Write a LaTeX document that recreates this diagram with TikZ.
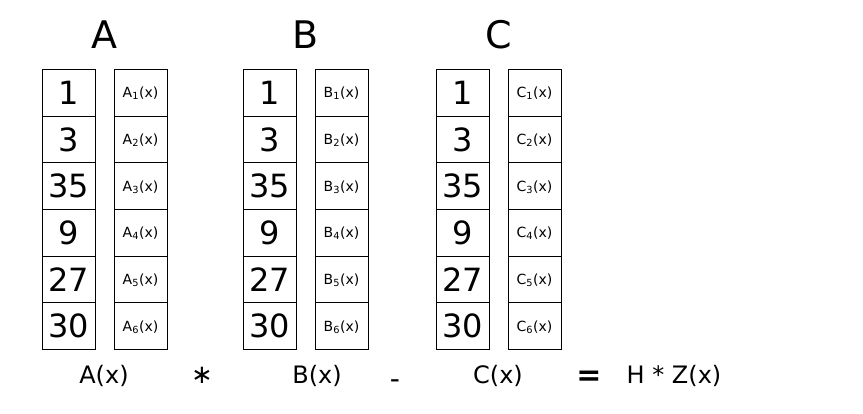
\documentclass[tikz,border=0pt]{standalone}
\usepackage{fontspec}
\setmainfont{DejaVu Sans}
\usetikzlibrary{positioning}

\tikzset{
  cell/.style={draw, line width=1pt, minimum width=53pt, minimum height=46.67pt, inner sep=0pt, outer sep=0pt},
  numcell/.style={cell, font=\fontsize{32}{32}\selectfont},
  polycell/.style={cell, font=\fontsize{14}{14}\selectfont, text height=10.2pt, text depth=0pt},
  header/.style={font=\fontsize{38}{38}\selectfont, anchor=base},
  term/.style={font=\fontsize{24}{24}\selectfont, anchor=base},
}

\begin{document}
\begin{tikzpicture}[x=1pt, y=-1pt]
  \useasboundingbox (0,0) rectangle (863,414);

  % number column and polynomial column for A, B and C
  \foreach \col/\x in {A/68.5, B/269.5, C/462.5} {
    \node[numcell] (num-\col-1) at (\x, 92.7) {1};
    \node[polycell, right = 19pt of num-\col-1] (poly-\col-1) {\col\textsubscript{1}(x)};
    \foreach \v [count=\i from 2] in {3,35,9,27,30} {
      \pgfmathtruncatemacro{\j}{\i-1}
      \node[numcell, below = 0pt of num-\col-\j] (num-\col-\i) {\v};
      \node[polycell, below = 0pt of poly-\col-\j] (poly-\col-\i) {\col\textsubscript{\i}(x)};
    }
    \path (num-\col-1.north west) -- (poly-\col-1.north east) coordinate[midway] (top-\col);
    \node[header] (head-\col) at ([yshift=21pt]top-\col) {\col};
  }

  % equation under the columns
  \node[term] (Ax) at (104, 383) {A(x)};
  \node[font=\fontsize{26}{26}\selectfont] (times) at (202, 375) {∗};
  \node[term] (Bx) at (317, 383) {B(x)};
  \node[font=\fontsize{28}{28}\selectfont] (minus) at (395, 384) {-};
  \node[term] (Cx) at (498, 383) {C(x)};
  \node[font=\bfseries\fontsize{30}{30}\selectfont] (eq) at (589, 378.5) {=};
  \node[term] (HZ) at (674, 383) {H * Z(x)};

\end{tikzpicture}
\end{document}
